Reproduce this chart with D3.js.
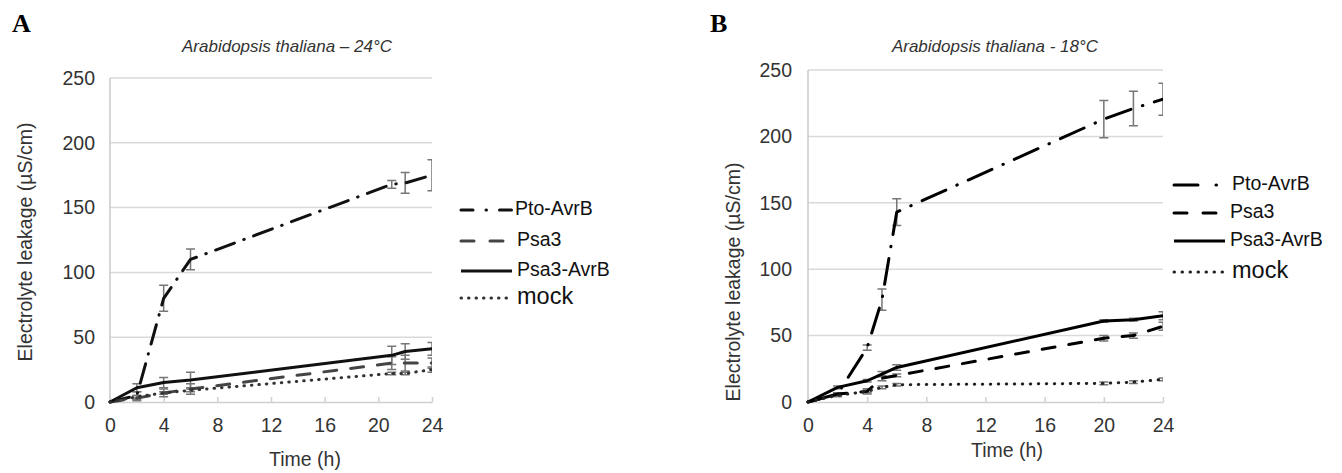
<!DOCTYPE html>
<html>
<head>
<meta charset="utf-8">
<script src="https://cdn.jsdelivr.net/npm/d3@7"></script>
<style>
  body { margin: 0; background: #fff; }
  text { font-family: "Liberation Sans", Arial, Helvetica, sans-serif; fill: #222; }
  .letter { font-family: "Liberation Serif", "Times New Roman", serif; font-weight: bold; font-size: 26px; fill: #000; }
  .title { font-style: italic; font-size: 17px; fill: #333; }
  .tick_label { font-size: 19.5px; fill: #333; }
  .axis_title { font-size: 19.5px; fill: #333; }
  .legend_label { font-size: 19.5px; fill: #111; }
</style>
</head>
<body>
<svg id="chart" width="1342" height="473"></svg>
<script>
// ---- data ----
let series_names = ["Pto-AvrB", "Psa3", "Psa3-AvrB", "mock"]
let y_ticks = [0, 50, 100, 150, 200, 250]
let x_ticks = [0, 4, 8, 12, 16, 20, 24]

// panel A, 24 C
let times_a = [0, 2, 4, 6, 21, 22, 24]
let pto_a = [0, 5, 80, 110, 168, 169, 175]
let pto_a_err = [0, 3, 10, 8, 3, 8, 12]
let psa3_a = [0, 3, 7, 10, 30, 30, 30]
let psa3_a_err = [0, 2, 3, 4, 5, 6, 4]
let psa3avrb_a = [0, 11, 15, 17, 36, 39, 41]
let psa3avrb_a_err = [0, 3, 4, 6, 7, 6, 5]
let mock_a = [0, 4, 7, 9, 22, 22, 25]
let mock_a_err = [0, 1, 1, 1, 1, 1, 2]

// panel B, 18 C
let times_b = [0, 2, 4, 5, 6, 20, 22, 24]
let pto_b = [0, 6, 41, 77, 143, 213, 221, 228]
let pto_b_err = [0, 1, 2, 8, 10, 14, 13, 12]
let psa3_b = [0, 6, 8, 18, 20, 48, 50, 57]
let psa3_b_err = [0, 1, 2, 2, 1, 2, 2, 3]
let psa3avrb_b = [0, 11, 16, 21, 26, 61, 62, 65]
let psa3avrb_b_err = [0, 1, 1, 2, 2, 1, 1, 3]
let mock_b = [0, 5, 8, 11, 13, 14, 15, 17]
let mock_b_err = [0, 1, 1, 1, 1, 1, 1, 1]

let svg = d3.select("#chart")

function zip(times, values, errs) {
  return times.map((t, i) => ({t: t, v: values[i], e: errs[i]}))
}

function make_scales(p) {
  return {
    x: d3.scaleLinear().domain([0, 24]).range(p.x_range),
    y: d3.scaleLinear().domain([0, 250]).range(p.y_range)
  }
}

function draw_panel(p) {
  let scales = make_scales(p)
  let g = svg.append("g").attr("id", p.id)

  // letter + title
  g.append("text").attr("class", "letter").attr("x", p.letter[0]).attr("y", p.letter[1]).text(p.letter_text)
  g.append("text").attr("class", "title")
    .attr("x", p.title_pos[0]).attr("y", p.title_pos[1])
    .attr("text-anchor", "middle")
    .text(p.title)

  // gridlines
  g.append("g").selectAll("line")
    .data(y_ticks.filter(d => d > 0)).enter()
    .append("line")
    .attr("x1", scales.x(0)).attr("x2", scales.x(24))
    .attr("y1", d => scales.y(d)).attr("y2", d => scales.y(d))
    .attr("stroke", "#d9d9d9").attr("stroke-width", 1.5)

  // left axis line
  g.append("line")
    .attr("x1", scales.x(0)).attr("x2", scales.x(0))
    .attr("y1", scales.y(0)).attr("y2", scales.y(250))
    .attr("stroke", "#c8c8c8").attr("stroke-width", 1.5)

  // y tick labels
  let y_axis = g.append("g")
    .attr("transform", `translate(${scales.x(0)}, 0)`)
    .call(d3.axisLeft(scales.y).tickValues(y_ticks).tickSize(0).tickPadding(p.ytick_pad))
  y_axis.select(".domain").remove()
  y_axis.selectAll("text").attr("class", "tick_label").attr("font-size", null).attr("font-family", null)

  // x axis
  let x_axis = g.append("g")
    .attr("transform", `translate(0, ${scales.y(0)})`)
    .call(d3.axisBottom(scales.x).tickValues(x_ticks).tickSizeInner(-5).tickSizeOuter(0).tickPadding(p.xtick_pad))
  x_axis.select(".domain").attr("stroke", "#d0d0d0").attr("stroke-width", 1.5)
  x_axis.selectAll(".tick line").attr("stroke", "#d0d0d0").attr("stroke-width", 1.5)
  x_axis.selectAll("text").attr("class", "tick_label").attr("font-size", null).attr("font-family", null)

  // axis titles
  g.append("text").attr("class", "axis_title")
    .attr("x", p.time_pos[0]).attr("y", p.time_pos[1])
    .attr("text-anchor", "middle").text("Time (h)")
  g.append("text").attr("class", "axis_title")
    .attr("transform", `translate(${p.ylab_pos[0]}, ${p.ylab_pos[1]})rotate(-90)`)
    .attr("text-anchor", "middle").attr("dominant-baseline", "middle")
    .text("Electrolyte leakage (\u00b5S/cm)")

  // clip to plot area
  g.append("clipPath").attr("id", p.id + "_clip")
    .append("rect")
    .attr("x", scales.x(0) - 10).attr("y", 0)
    .attr("width", scales.x(24) - scales.x(0) + 10).attr("height", 473)

  let plot = g.append("g").attr("clip-path", `url(#${p.id}_clip)`)

  // error bars
  let cap = 4.5
  p.series.forEach(s => {
    let eg = plot.append("g").attr("stroke", "#777").attr("stroke-width", 1.5).attr("fill", "none")
    let pts = s.data.filter(d => d.e > 0)
    eg.selectAll("path").data(pts).enter()
      .append("path")
      .attr("d", d => {
        let x = scales.x(d.t), y0 = scales.y(d.v - d.e), y1 = scales.y(d.v + d.e)
        return `M${x - cap},${y0}H${x + cap}M${x},${y0}V${y1}M${x - cap},${y1}H${x + cap}`
      })
  })

  // lines
  let line = d3.line().x(d => scales.x(d.t)).y(d => scales.y(d.v))
  p.series.forEach(s => {
    plot.append("path")
      .datum(s.data)
      .attr("d", line)
      .attr("fill", "none")
      .attr("stroke", s.color)
      .attr("stroke-width", 3)
      .attr("stroke-linecap", s.cap)
      .attr("stroke-linejoin", "round")
      .attr("stroke-dasharray", s.dash)
  })

  // legend
  let lg = g.append("g")
  p.series.forEach((s, i) => {
    let y = p.legend_ys[i]
    lg.append("line")
      .attr("x1", p.legend_x[0]).attr("x2", p.legend_x[1])
      .attr("y1", y).attr("y2", y)
      .attr("stroke", s.color).attr("stroke-width", 3)
      .attr("stroke-linecap", s.cap)
      .attr("stroke-dasharray", s.legend_dash || s.dash)
    lg.append("text").attr("class", "legend_label")
      .attr("x", p.legend_tx[i]).attr("y", y)
      .attr("dominant-baseline", "middle")
      .style("font-size", s.name == "mock" ? "23.5px" : null)
      .text(s.name)
  })
}

let panel_a = {
  id: "panel_a", letter_text: "A", letter: [12, 32],
  title: "Arabidopsis thaliana \u2013 24\u00b0C", title_pos: [287, 52],
  x_range: [110, 432], y_range: [402, 78],
  ytick_pad: 15, xtick_pad: 16,
  time_pos: [305, 466], ylab_pos: [27, 242],
  legend_x: [461, 512], legend_tx: [515, 517, 517, 517], legend_ys: [210, 241, 271, 298],
  series: [
    {name: series_names[0], data: zip(times_a, pto_a, pto_a_err), color: "#111", dash: "20,10,0.5,10", legend_dash: "12,13,0.5,13", cap: "round"},
    {name: series_names[1], data: zip(times_a, psa3_a, psa3_a_err), color: "#444", dash: "13,14", legend_dash: "13,16", cap: "round"},
    {name: series_names[2], data: zip(times_a, psa3avrb_a, psa3avrb_a_err), color: "#111", dash: null, cap: "butt"},
    {name: series_names[3], data: zip(times_a, mock_a, mock_a_err), color: "#333", dash: "0.5,7", cap: "round"}
  ]
}

let panel_b = {
  id: "panel_b", letter_text: "B", letter: [710, 32],
  title: "Arabidopsis thaliana - 18\u00b0C", title_pos: [995, 52],
  x_range: [808, 1163], y_range: [402, 70],
  ytick_pad: 16, xtick_pad: 16,
  time_pos: [1007, 457], ylab_pos: [735, 282],
  legend_x: [1174, 1225], legend_tx: [1232, 1230, 1230, 1232], legend_ys: [185, 213, 241, 272],
  series: [
    {name: series_names[0], data: zip(times_b, pto_b, pto_b_err), color: "#000", dash: "26,12,0.5,12", legend_dash: "24,18,0.5,20", cap: "round"},
    {name: series_names[1], data: zip(times_b, psa3_b, psa3_b_err), color: "#000", dash: "13,14", legend_dash: "13,16", cap: "round"},
    {name: series_names[2], data: zip(times_b, psa3avrb_b, psa3avrb_b_err), color: "#000", dash: null, cap: "butt"},
    {name: series_names[3], data: zip(times_b, mock_b, mock_b_err), color: "#222", dash: "0.5,7.5", cap: "round"}
  ]
}

draw_panel(panel_a)
draw_panel(panel_b)
</script>
</body>
</html>
